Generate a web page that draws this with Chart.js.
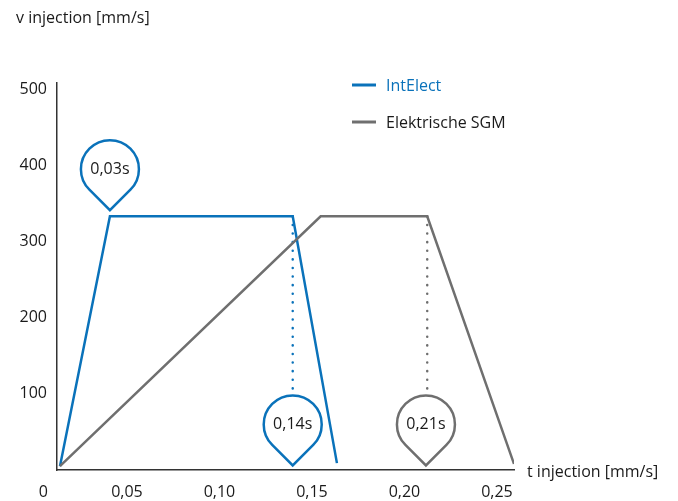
<!DOCTYPE html>
<html lang="de">
<head>
  <meta charset="UTF-8" />
  <title>v injection</title>
  <style>
    html, body { margin: 0; padding: 0; background: #fff; }
    #wrap { width: 678px; height: 501px; }
  </style>
</head>
<body>
<div id="wrap"><canvas id="speedChart" width="678" height="501"></canvas></div>

<script src="https://cdn.jsdelivr.net/npm/chart.js"></script>
<script>
  // values (t in s, v in mm/s)
  const intElectT = [0.0138, 0.0408, 0.1396, 0.1635];
  const intElectV = [5, 333, 333, 9];
  const sgmT = [0.0138, 0.1547, 0.2123, 0.2592];
  const sgmV = [5, 333, 333, 8];

  // dotted drop lines from the end of the plateau
  const dropT = [0.1396, 0.2123];
  const dropTop = [333, 333];
  const dropBottom = [102, 102];

  // pin markers
  const markerT = [0.0408, 0.1396, 0.2116];
  const markerV = [341, 6, 6];
  const markerLabels = ['0,03s', '0,14s', '0,21s'];

  const xTicks = [0.05, 0.10, 0.15, 0.20, 0.25];
  const yTicks = [100, 200, 300, 400, 500];
  const seriesNames = ['IntElect', 'Elektrische SGM'];

  const BLUE = '#0a72ba';
  const GREY = '#6f6f6f';
  const TEXT = '#1a1a1a';
  const FONT = '"Open Sans", sans-serif';

  function pts(xs, ys) {
    return xs.map((x, i) => ({ x: x, y: ys[i] }));
  }

  const markerColors = [BLUE, BLUE, GREY];

  const overlay = {
    id: 'overlay',
    afterDatasetsDraw(chart) {
      const ctx = chart.ctx;
      const xs = chart.scales.x, ys = chart.scales.y;
      ctx.save();

      // pins
      const r = 29, d = 41, a = Math.acos(r / d);
      markerT.forEach((t, i) => {
        const tx = xs.getPixelForValue(t);
        const ty = ys.getPixelForValue(markerV[i]);
        const cx = tx, cy = ty - d;
        ctx.beginPath();
        ctx.arc(cx, cy, r, Math.PI / 2 + a, Math.PI * 2.5 - a);
        ctx.lineTo(tx, ty);
        ctx.closePath();
        ctx.fillStyle = '#fff';
        ctx.fill();
        ctx.lineWidth = 2.5;
        ctx.strokeStyle = markerColors[i];
        ctx.lineJoin = 'miter';
        ctx.stroke();
        ctx.fillStyle = TEXT;
        ctx.font = '16px ' + FONT;
        ctx.textAlign = 'center';
        ctx.textBaseline = 'middle';
        ctx.fillText(markerLabels[i], cx, cy);
      });

      // legend
      const legendY = [85, 122];
      const legendCol = [BLUE, GREY];
      const legendTxt = [BLUE, TEXT];
      seriesNames.forEach((name, i) => {
        ctx.beginPath();
        ctx.moveTo(352, legendY[i]);
        ctx.lineTo(376, legendY[i]);
        ctx.lineWidth = 3;
        ctx.strokeStyle = legendCol[i];
        ctx.stroke();
        ctx.fillStyle = legendTxt[i];
        ctx.font = '16px ' + FONT;
        ctx.textAlign = 'left';
        ctx.textBaseline = 'middle';
        ctx.fillText(name, 386, legendY[i] + 1);
      });

      // axis titles and the corner zero
      ctx.fillStyle = TEXT;
      ctx.font = '16px ' + FONT;
      ctx.textAlign = 'left';
      ctx.textBaseline = 'middle';
      ctx.fillText('v injection [mm/s]', 16, 18);
      ctx.fillText('t injection [mm/s]', 527, 472);
      ctx.textAlign = 'right';
      ctx.fillText('0', 48, 492);
      ctx.restore();
    }
  };

  const dotted = dropT.map((t, i) => ({
    data: [{ x: t, y: dropTop[i] }, { x: t, y: dropBottom[i] }],
    borderColor: i === 0 ? BLUE : GREY,
    borderWidth: 2.5,
    borderDash: [0.1, 8.5],
    borderCapStyle: 'round',
    pointRadius: 0
  }));

  new Chart(document.getElementById('speedChart'), {
    type: 'line',
    data: {
      datasets: [
        {
          label: seriesNames[1],
          data: pts(sgmT, sgmV),
          borderColor: GREY,
          borderWidth: 2.5,
          pointRadius: 0,
          tension: 0
        },
        {
          label: seriesNames[0],
          data: pts(intElectT, intElectV),
          borderColor: BLUE,
          borderWidth: 2.5,
          pointRadius: 0,
          tension: 0
        }
      ].concat(dotted)
    },
    options: {
      responsive: false,
      animation: false,
      layout: { padding: { left: 0, right: 164, top: 83, bottom: 0 } },
      plugins: {
        legend: { display: false },
        tooltip: { enabled: false }
      },
      scales: {
        x: {
          type: 'linear',
          min: 0.0122,
          max: 0.2592,
          afterBuildTicks: s => { s.ticks = xTicks.map(v => ({ value: v })); },
          afterFit: s => { s.height = 31; },
          grid: { display: false, drawTicks: false },
          border: { display: true, color: '#333', width: 1.5 },
          ticks: {
            padding: 13,
            color: TEXT,
            font: { family: FONT, size: 16 },
            maxRotation: 0,
            callback: v => v.toFixed(2).replace('.', ',')
          }
        },
        y: {
          min: 0,
          max: 508,
          afterBuildTicks: s => { s.ticks = yTicks.map(v => ({ value: v })); },
          afterFit: s => { s.width = 57; },
          grid: { display: false, drawTicks: false },
          border: { display: true, color: '#333', width: 1.5 },
          ticks: {
            padding: 10,
            color: TEXT,
            font: { family: FONT, size: 16 }
          }
        }
      }
    },
    plugins: [overlay]
  });
</script>
</body>
</html>
